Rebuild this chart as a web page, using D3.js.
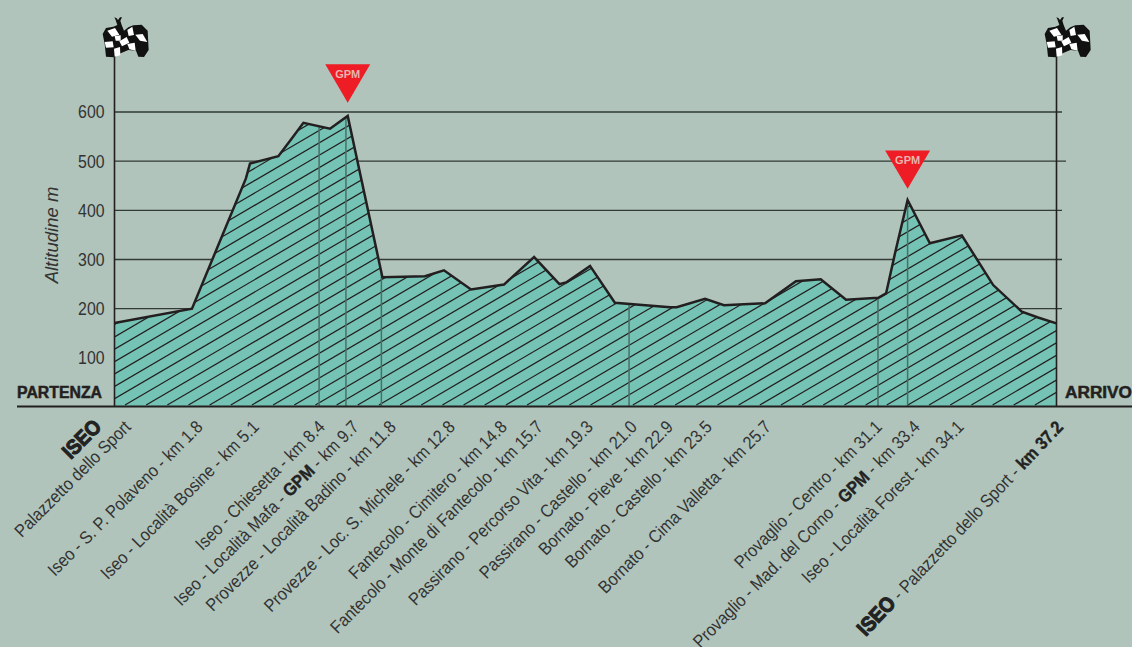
<!DOCTYPE html>
<html><head><meta charset="utf-8">
<script src="https://cdn.jsdelivr.net/npm/d3@7"></script>
<style>html,body{margin:0;padding:0;background:#b0c4bb;overflow:hidden}svg{display:block}</style>
</head><body><div id="c"></div>
<script>
const profileKm=[0,3.06,5.19,5.35,6.47,7.00,7.46,8.51,9.21,10.58,12.26,13.01,14.08,15.38,16.57,17.57,17.86,18.78,19.76,21.94,22.20,23.32,24.07,25.69,26.91,27.89,28.89,30.16,30.47,30.82,31.32,32.20,33.46,34.70,35.83,36.47,37.2];
const profileAlt=[171,200,465,495,510,546,578,566,592,264,266,278,239,249,305,250,254,287,212,203,203,220,207,211,256,260,218,222,231,312,421,333,349,248,194,182,170];
const yTicks=[100,200,300,400,500,600];
const dropKm=[8.08,9.14,10.54,20.32,30.15,31.32];
const gpmKm=[9.21,31.32];
const gpmAlt=[619,444];
const labels=["##ISEO##","Palazzetto dello Sport","Iseo - S. P. Polaveno - km 1.8","Iseo - Località Bosine - km 5.1","Iseo - Chiesetta - km 8.4","Iseo - Località Mafa - **GPM** - km 9.7","Provezze - Località Badino - km 11.8","Provezze - Loc. S. Michele - km 12.8","Fantecolo - Cimitero - km 14.8","Fantecolo - Monte di Fantecolo - km 15.7","Passirano - Percorso Vita - km 19.3","Passirano - Castello - km 21.0","Bornato - Pieve - km 22.9","Bornato - Castello - km 23.5","Bornato - Cima Valletta - km 25.7","Provaglio - Centro - km 31.1","Provaglio - Mad. del Corno - **GPM** - km 33.4","Iseo - Località Forest - km 34.1","##ISEO## - Palazzetto dello Sport - **km 37.2**"];
const labelKm=[-0.47,0.69,3.53,5.75,8.35,9.69,11.16,13.49,15.54,16.96,18.94,20.68,22.10,23.64,25.97,30.35,31.85,33.58,37.50];

const W=1132,H=647,ink="#231f20";
const svg=d3.select("#c").append("svg").attr("width",W).attr("height",H);
svg.append("rect").attr("width",W).attr("height",H).attr("fill","#b0c4bb");
const x=d3.scaleLinear().domain([0,37.2]).range([114.5,1056.5]);
const y=d3.scaleLinear().domain([0,600]).range([407,112]);
const pts=profileKm.map((k,i)=>[k,profileAlt[i]]);
const font="'Liberation Sans',Arial,sans-serif";

// grid
const gridEnd=d=>d===500?1066:d===100?x(37.2):1062;
svg.append("g").selectAll("line").data(yTicks).join("line")
 .attr("x1",x(0)).attr("x2",gridEnd).attr("y1",y).attr("y2",y)
 .attr("stroke","#333a36").attr("stroke-width",1.4);

// y axis labels
const ax=svg.append("g").attr("transform",`translate(${x(0)},0)`)
 .call(d3.axisLeft(y).tickValues(yTicks).tickSize(0).tickPadding(0));
ax.select(".domain").remove();
ax.selectAll("text").attr("font-family",font).attr("font-size",18).attr("fill","#333")
 .attr("transform","translate(-10,0) scale(0.88,1)").attr("x",0).attr("dy","0.33em");
svg.append("text").attr("transform","translate(58,235) rotate(-90)").attr("text-anchor","middle")
 .attr("font-family",font).attr("font-style","italic").attr("font-size",18.5).attr("fill","#333").text("Altitudine m");

// area
const area=d3.area().x(d=>x(d[0])).y0(y(0)).y1(d=>y(d[1]));
const line=d3.line().x(d=>x(d[0])).y(d=>y(d[1]));
svg.append("clipPath").attr("id","clip").append("path").attr("d",area(pts));
svg.append("path").attr("d",area(pts)).attr("fill","#75c3b4");
const clipG=svg.append("g").attr("clip-path","url(#clip)");
const slope=0.585;
clipG.append("g").selectAll("line").data(d3.range(-40,50)).join("line")
 .attr("x1",i=>125+i*21.16).attr("y1",405)
 .attr("x2",i=>125+i*21.16+700).attr("y2",405-700*slope)
 .attr("stroke",ink).attr("stroke-width",1.25);
clipG.append("g").selectAll("line").data(dropKm).join("line")
 .attr("x1",x).attr("x2",x).attr("y1",y(0)).attr("y2",y(700))
 .attr("stroke","#4a6f68").attr("stroke-width",1.5);
svg.append("path").attr("d",line(pts)).attr("fill","none").attr("stroke",ink).attr("stroke-width",2.5).attr("stroke-linejoin","miter");

// poles and baseline
svg.append("g").selectAll("line").data([0,37.2]).join("line")
 .attr("x1",x).attr("x2",x).attr("y1",56).attr("y2",y(0))
 .attr("stroke",ink).attr("stroke-width",1.6);
svg.append("line").attr("x1",17).attr("x2",W).attr("y1",406.5).attr("y2",406.5).attr("stroke",ink).attr("stroke-width",2.2);

// start / finish words
[["PARTENZA",17,85],["ARRIVO",1065,67]].forEach(([t,px,len])=>{
 svg.append("text").attr("x",px).attr("y",398).attr("font-family",font).attr("font-weight",700)
  .attr("font-size",16).attr("textLength",len).attr("lengthAdjust","spacingAndGlyphs")
  .attr("fill",ink).attr("stroke",ink).attr("stroke-width",0.5).text(t);
});

// flags
const flagBody=[[340,80],[352,75],[346,58],[343,52],[349,54],[354,60],[360,52],[366,52],[361,62],[365,75],[372,92],[385,82],[400,76],[425,74],[443,92],[446,150],[432,171],[415,170],[408,152],[385,150],[362,160],[342,172],[318,170],[314,132],[308,102],[318,84]];
const flagWhite=[[[322,92],[345,84],[358,104],[336,110]],[[344,108],[362,106],[362,122],[347,122]],[[314,126],[338,124],[341,142],[318,143]],[[358,124],[380,111],[388,128],[366,139]],[[382,90],[397,80],[402,105],[386,108]],[[406,104],[428,102],[442,126],[420,122]],[[382,132],[404,128],[407,152],[388,148]],[[342,146],[360,141],[361,166],[344,170]]];
const toPath=p=>"M"+p.map(q=>[q[0]/3,q[1]/3].join(",")).join("L")+"Z";
[0,942].forEach(dx=>{
 const g=svg.append("g").attr("transform",`translate(${dx},0)`);
 g.append("path").attr("d",toPath(flagBody)).attr("fill","#111");
 g.selectAll(".w").data(flagWhite).join("path").attr("class","w").attr("d",toPath).attr("fill","#fff");
});

// GPM markers
gpmKm.forEach((k,i)=>{
 const ax0=x(k),ay=y(gpmAlt[i]);
 const g=svg.append("g").attr("transform",`translate(${ax0},${ay})`);
 g.append("path").attr("d",d3.line()([[-22.5,-38.3],[22.5,-38.3],[0,0]])+"Z").attr("fill","#ee1c25");
 g.append("text").attr("y",-24.5).attr("text-anchor","middle").attr("font-family",font).attr("font-weight",700)
  .attr("font-size",11).attr("fill","#e9b4ae").text("GPM");
});

// station labels
const parse=s=>s.split(/(\*\*.*?\*\*|##.*?##)/).filter(Boolean).map(p=>
  p.startsWith("**")?{t:p.slice(2,-2),k:"b"}:p.startsWith("##")?{t:p.slice(2,-2),k:"h"}:{t:p,k:"n"});
const lab=svg.append("g").selectAll("text").data(labels).join("text")
 .attr("transform",(d,i)=>`translate(${x(labelKm[i])},428) rotate(${i===labels.length-1?-46.5:-45}) scale(0.9,1)`)
 .attr("text-anchor","end").attr("font-family",font).attr("font-size",17.8).attr("fill","#333");
lab.selectAll("tspan").data(d=>parse(d)).join("tspan")
 .attr("font-weight",d=>d.k==="n"?400:700)
 .attr("font-size",d=>d.k==="h"?21:17.8)
 .attr("stroke",d=>d.k==="n"?"none":"#222").attr("stroke-width",d=>d.k==="h"?1.1:0.4)
 .attr("fill",d=>d.k==="n"?"#333":"#222")
 .text(d=>d.t);
</script></body></html>
